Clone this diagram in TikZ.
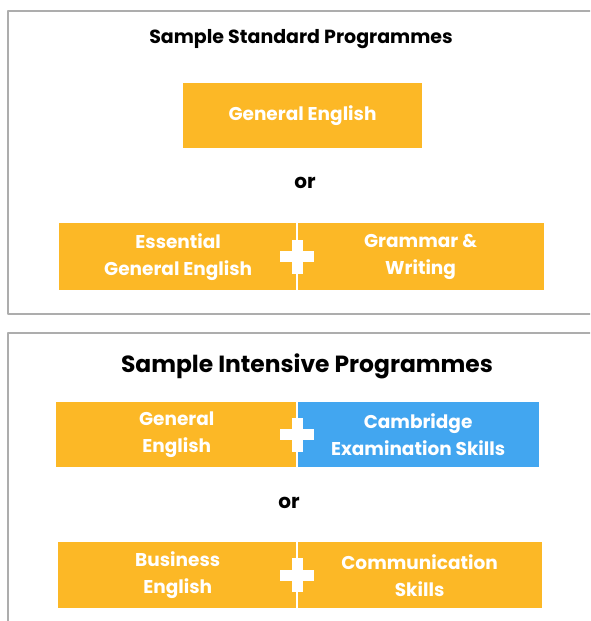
\documentclass[tikz,border=0pt]{standalone}
\usepackage{fontspec}
\setmainfont{Poppins}
\usetikzlibrary{positioning}
\definecolor{gold}{rgb}{0.99,0.72,0.15}
\definecolor{skyblue}{rgb}{0.26,0.65,0.94}
\definecolor{framegray}{rgb}{0.68,0.68,0.68}
\tikzset{
  prog/.style={fill=gold, text=white, align=center, inner sep=0pt,
    font=\bfseries\fontsize{18.5}{27}\selectfont},
  headline/.style={font=\bfseries\fontsize{19}{23}\selectfont},
  divider/.style={white, line width=2pt, line cap=butt},
  plussign/.pic={
    \fill[white] (-17,-5.5) rectangle (17,5.5);
    \fill[white] (-5.5,-17) rectangle (5.5,17);
  }
}

\begin{document}
\begin{tikzpicture}[line cap=round,line join=round,x=1pt,y=-1pt]
	\useasboundingbox (0,0) rectangle (590,621);
	\clip (0,0) rectangle (590,621);
	% standard
	\draw [line width=1.5pt,color=framegray] (8,11) rectangle (600,314);
	\node[headline] (title1) at (301,39) {Sample Standard Programmes};
	\node[prog, minimum width=239pt, minimum height=65pt] (ge) at (302.5,115.5) {General English};
	\node[headline, font=\bfseries\fontsize{20}{24}\selectfont] (or1) at (305,183) {or};
	\node[prog, anchor=north west, minimum width=238pt, minimum height=67pt] (ess) at (59,223) {Essential\\General English};
	\node[prog, right=0pt of ess, minimum width=246pt, minimum height=67pt] (gw) {Grammar \&\\Writing};
	\draw [divider] (ess.north east) -- (ess.south east);
	\pic at (ess.east) {plussign};

	% intensive
	\draw [line width=1.5pt,color=framegray] (8,333) rectangle (600,700);
	\node[headline, font=\bfseries\fontsize{23.4}{28}\selectfont] (title2) at (307,366) {Sample Intensive Programmes};
	\node[prog, anchor=north west, minimum width=241pt, minimum height=65pt] (gen) at (56,402) {General\\English};
	\node[prog, fill=skyblue, right=0pt of gen, minimum width=241pt, minimum height=65pt] (cam) {Cambridge\\Examination Skills};
	\draw [divider] (gen.north east) -- (gen.south east);
	\pic at (gen.east) {plussign};
	\node[headline, font=\bfseries\fontsize{20}{24}\selectfont] (or2) at (289,503) {or};
	\node[prog, anchor=north west, minimum width=239pt, minimum height=66pt] (bus) at (58,542) {Business\\English};
	\node[prog, right=0pt of bus, minimum width=244pt, minimum height=66pt] (com) {Communication\\Skills};
	\draw [divider] (bus.north east) -- (bus.south east);
	\pic at (bus.east) {plussign};

\end{tikzpicture}
\end{document}
